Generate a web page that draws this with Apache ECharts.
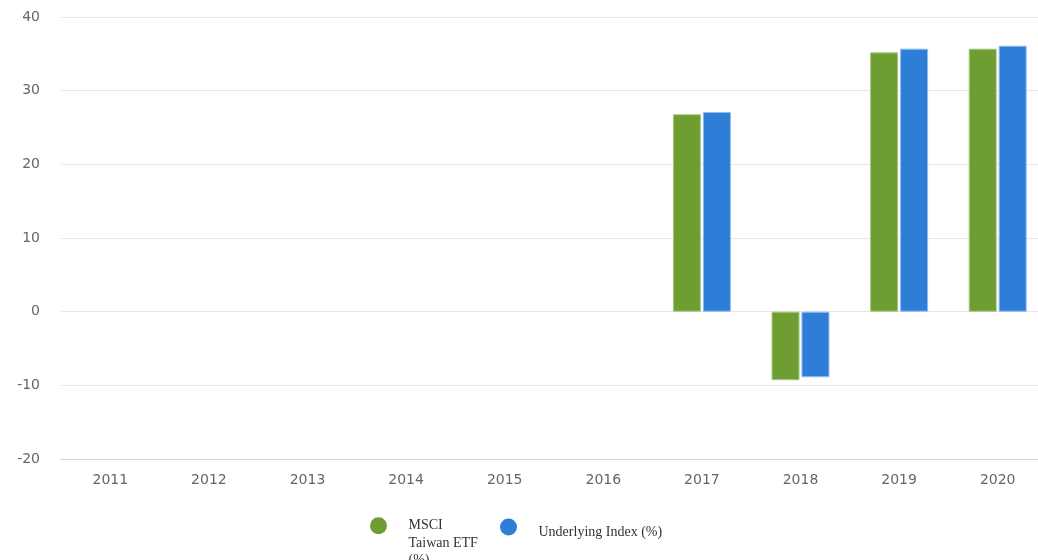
<!DOCTYPE html>
<html>
<head>
<meta charset="utf-8">
<script src="https://cdn.jsdelivr.net/npm/echarts@6/dist/echarts.min.js"></script>
<style>
html,body{margin:0;padding:0;background:#fff;overflow:hidden;width:1038px;height:560px;}
#c{width:1047px;height:560px;}
</style>
</head>
<body>
<div id="c"></div>
<script>
const categories = ['2011','2012','2013','2014','2015','2016','2017','2018','2019','2020'];
const etfValues = [null,null,null,null,null,null,26.8,-9.3,35.2,35.7];
const indexValues = [null,null,null,null,null,null,27.1,-8.9,35.7,36.1];
const yTicks = [-20,-10,0,10,20,30,40];
const seriesNames = ['MSCI Taiwan ETF (%)','Underlying Index (%)'];
const legendLabels = ['MSCI\nTaiwan ETF\n(%)','Underlying Index (%)'];

const chart = echarts.init(document.getElementById('c'), null, {renderer:'canvas'});
chart.setOption({
  animation:false,
  backgroundColor:'#ffffff',
  grid:{left:61, top:17, right:0, height:442, containLabel:false},
  legend:[{
    data:[seriesNames[0]],
    left:370, top:482, padding:0,
    icon:'circle', itemWidth:50, itemHeight:17,
    itemStyle:{borderWidth:0},
    formatter:function(){return ' \n \n' + legendLabels[0];},
    textStyle:{fontFamily:'Liberation Serif', fontSize:14, color:'#333', lineHeight:17.5}
  },{
    data:[seriesNames[1]],
    left:500, top:515, padding:0,
    icon:'circle', itemWidth:50, itemHeight:17,
    itemStyle:{borderWidth:0},
    formatter:function(){return ' \n' + legendLabels[1];},
    textStyle:{fontFamily:'Liberation Serif', fontSize:14, color:'#333', lineHeight:10}
  }],
  xAxis:{
    type:'category', data:categories,
    axisLine:{onZero:false, lineStyle:{color:'#ccd6eb', width:1}},
    axisTick:{show:false},
    axisLabel:{color:'#666', fontFamily:'DejaVu Sans', fontSize:14, margin:14},
    splitLine:{show:false}
  },
  yAxis:{
    type:'value', min:yTicks[0], max:yTicks[yTicks.length-1], interval:10,
    axisLine:{show:false}, axisTick:{show:false},
    axisLabel:{color:'#666', fontFamily:'DejaVu Sans', fontSize:14, margin:21},
    splitLine:{lineStyle:{color:'#e6e6e6', width:1}}
  },
  series:[{
    name:seriesNames[0], type:'bar', data:etfValues,
    barWidth:28, barGap:'7%',
    itemStyle:{color:'#6e9e32', borderColor:'#a9c77f', borderWidth:1}
  },{
    name:seriesNames[1], type:'bar', data:indexValues,
    barWidth:28,
    itemStyle:{color:'#2e7ed8', borderColor:'#8fbcef', borderWidth:1}
  }]
});
</script>
</body>
</html>
